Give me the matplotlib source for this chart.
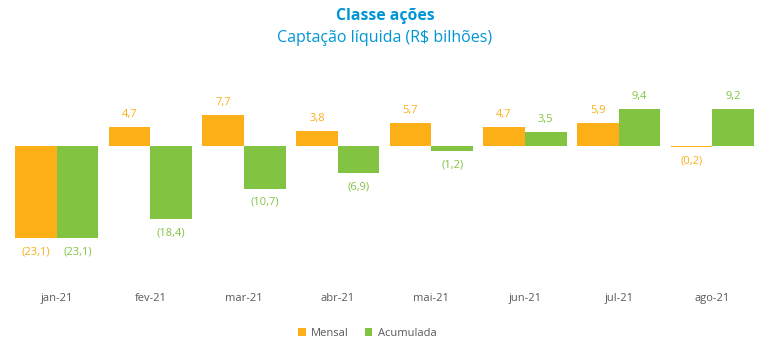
import matplotlib
matplotlib.use("Agg")
import matplotlib.pyplot as plt
import numpy as np

categories = ["jan-21", "fev-21", "mar-21", "abr-21", "mai-21", "jun-21", "jul-21", "ago-21"]
mensal = [-23.1, 4.7, 7.7, 3.8, 5.7, 4.7, 5.9, -0.2]
acumulada = [-23.1, -18.4, -10.7, -6.9, -1.2, 3.5, 9.4, 9.2]

ORANGE = "#FCAF17"
GREEN = "#82C341"
BLUE = "#0096D6"
GREY = "#595959"

plt.rcParams['font.family'] = ['Open Sans', 'DejaVu Sans']

W, H = 770, 357
fig = plt.figure(figsize=(W / 100, H / 100), dpi=100)
left, right = 10 / W, 759 / W
bottom_px, top_px = 285, 70
ax = fig.add_axes([left, 1 - bottom_px / H, right - left, (bottom_px - top_px) / H])

ppu = 3.98
ax.set_ylim(-(bottom_px - 146) / ppu, (146 - top_px) / ppu)
x = np.arange(len(categories))
w = 0.445
ax.set_xlim(-0.5, len(categories) - 0.5)
b1 = ax.bar(x - w / 2, mensal, w, color=ORANGE, label="Mensal")
b2 = ax.bar(x + w / 2, acumulada, w, color=GREEN, label="Acumulada")

def fmt(v):
    s = f"{abs(v):.1f}".replace(".", ",")
    return f"({s})" if v < 0 else s

for bars, vals, col in ((b1, mensal, ORANGE), (b2, acumulada, GREEN)):
    for b, v in zip(bars, vals):
        xc = b.get_x() + b.get_width() / 2
        if v >= 0:
            ax.annotate(fmt(v), (xc, v), xytext=(0, 5), textcoords="offset points",
                        ha="center", va="bottom", color=col, fontsize=8)
        else:
            ax.annotate(fmt(v), (xc, v), xytext=(0, -6), textcoords="offset points",
                        ha="center", va="top", color=col, fontsize=8)

ax.set_xticks(x)
ax.set_xticklabels(categories, color=GREY, fontsize=8)
ax.tick_params(axis="x", length=0, pad=6)
ax.set_yticks([])
for s in ax.spines.values():
    s.set_visible(False)

fig.text(0.5, 1 - 16 / H, "Classe ações", ha="center", va="center",
         color=BLUE, fontsize=11.3, fontweight="bold")
fig.text(0.5, 1 - 38 / H, "Captação líquida (R$ bilhões)", ha="center", va="center",
         color=BLUE, fontsize=11.5)

leg = fig.legend(loc="center", bbox_to_anchor=(0.477, 1 - 333 / H), ncol=2, frameon=False,
                 fontsize=8, handlelength=0.7, handleheight=0.7, handletextpad=0.5,
                 columnspacing=1.4)
for t in leg.get_texts():
    t.set_color(GREY)

fig.savefig("out.png", dpi=100)
